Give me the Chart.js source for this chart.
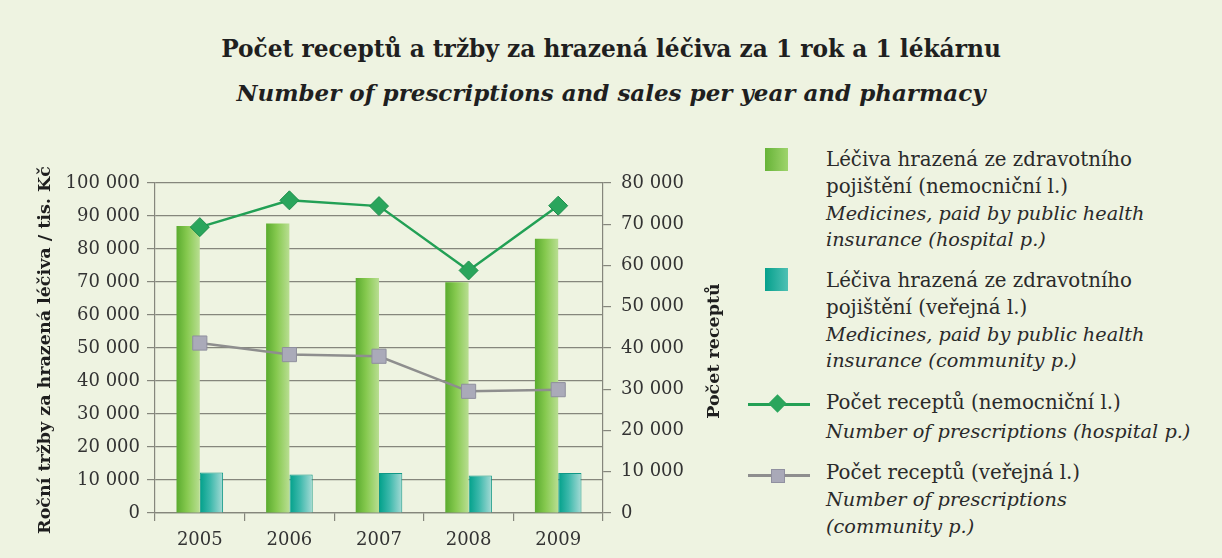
<!DOCTYPE html>
<html lang="cs">
<head>
<meta charset="utf-8">
<title>Počet receptů a tržby</title>
<script src="https://cdn.jsdelivr.net/npm/chart.js@4.4.1/dist/chart.umd.min.js"></script>
<style>
  html, body { margin: 0; padding: 0; }
  body {
    width: 1222px; height: 558px; position: relative; overflow: hidden;
    background: #eef3e1; font-family: "DejaVu Serif", serif; color: #262626;
  }
  .title { position: absolute; left: 0; width: 1222px; text-align: center; font-weight: bold; white-space: nowrap; color: #1f1f1f; }
  #t1 { top: 34px; font-size: 23.3px; line-height: 30px; }
  #t2 { top: 78px; font-size: 23px; line-height: 30px; font-style: italic; }
  #chartBox { position: absolute; left: 0; top: 150px; }
  .leg { position: absolute; left: 826px; font-size: 19.8px; line-height: 26.8px; white-space: nowrap; color: #2a2a2a; }
  .leg i { font-style: italic; font-size: 19.3px; }
  .sw { position: absolute; width: 23px; height: 23px; }
  .ln { position: absolute; height: 3px; }
  .mk { position: absolute; }
</style>
</head>
<body>
<div class="title" id="t1">Počet receptů a tržby za hrazená léčiva za 1 rok a 1 lékárnu</div>
<div class="title" id="t2">Number of prescriptions and sales per year and pharmacy</div>

<canvas id="chartBox" width="740" height="408"></canvas>

<!-- legend -->
<div class="sw" style="left:765px;top:148px;background:linear-gradient(90deg,#66b337,#9fd46c);"></div>
<div class="leg" style="top:147px">Léčiva hrazená ze zdravotního<br>pojištění (nemocniční l.)<br><i>Medicines, paid by public health<br>insurance (hospital p.)</i></div>

<div class="sw" style="left:765px;top:268px;background:linear-gradient(90deg,#05a08c,#4fc0b4);"></div>
<div class="leg" style="top:268px">Léčiva hrazená ze zdravotního<br>pojištění (veřejná l.)<br><i>Medicines, paid by public health<br>insurance (community p.)</i></div>

<div class="ln" style="left:748px;top:403px;width:62px;background:#23a055;"></div>
<div class="mk" style="left:771px;top:397px;width:13px;height:13px;background:#2aa55c;transform:rotate(45deg);"></div>
<div class="leg" style="top:389px;line-height:28.5px">Počet receptů (nemocniční l.)<br><i>Number of prescriptions (hospital p.)</i></div>

<div class="ln" style="left:748px;top:474px;width:62px;background:#8e8e8e;"></div>
<div class="mk" style="left:771px;top:469px;width:14px;height:14px;background:#a9a9b8;border:1px solid #9090a0;box-sizing:border-box;"></div>
<div class="leg" style="top:459px;line-height:27px">Počet receptů (veřejná l.)<br><i>Number of prescriptions<br>(community p.)</i></div>

<script>
// data
const years = ['2005', '2006', '2007', '2008', '2009'];
const salesHospital = [87000, 87700, 71200, 69900, 83100];   // tis. Kč
const salesCommunity = [12300, 11700, 12100, 11400, 12100];  // tis. Kč
const rxHospital = [69300, 75800, 74400, 58800, 74500];
const rxCommunity = [41200, 38400, 38000, 29500, 29900];
const leftMax = 100000;
const rightMax = 80000;
const tickStep = 10000;

const catPct = 0.52;
const gridColor = '#85867c';
const tickFont = { family: 'DejaVu Serif', size: 18 };

function fmt(v) {
  return String(v).replace(/\B(?=(\d{3})+(?!\d))/g, ' ');
}

// horizontal gradient on every bar, like a cylinder
function barFill(c1, c2, c3, side) {
  return function(ctx) {
    const chart = ctx.chart;
    const xs = chart.scales.x;
    if (!xs || ctx.type !== 'data') return c2;
    const center = xs.getPixelForValue(ctx.dataIndex);
    const bw = (xs.width / years.length) * catPct / 2;
    const left = side === 0 ? center - bw : center;
    if (!isFinite(left) || !isFinite(bw) || bw <= 0) return c2;
    const g = chart.ctx.createLinearGradient(left, 0, left + bw, 0);
    g.addColorStop(0, c1);
    g.addColorStop(0.45, c2);
    g.addColorStop(1, c3);
    return g;
  };
}

// axis titles (the right one reads bottom to top like the left one)
const axisTitles = {
  id: 'axisTitles',
  afterDraw(chart) {
    const ctx = chart.ctx;
    const a = chart.chartArea;
    const mid = (a.top + a.bottom) / 2;
    ctx.save();
    ctx.fillStyle = '#1e1e1e';
    ctx.font = 'bold 17.5px "DejaVu Serif"';
    ctx.textAlign = 'center';
    ctx.textBaseline = 'middle';
    ctx.translate(45, mid + 2);
    ctx.rotate(-Math.PI / 2);
    ctx.fillText('Roční tržby za hrazená léčiva / tis. Kč', 0, 0);
    ctx.restore();

    ctx.save();
    ctx.fillStyle = '#1e1e1e';
    ctx.font = 'bold 17.5px "DejaVu Serif"';
    ctx.textAlign = 'center';
    ctx.textBaseline = 'middle';
    ctx.translate(714, mid + 3);
    ctx.rotate(-Math.PI / 2);
    ctx.fillText('Počet receptů', 0, 0);
    ctx.restore();
  }
};

const ctx = document.getElementById('chartBox').getContext('2d');
new Chart(ctx, {
  type: 'bar',
  data: {
    labels: years,
    datasets: [
      {
        label: 'Léčiva hrazená ze zdravotního pojištění (nemocniční l.)',
        data: salesHospital,
        yAxisID: 'y',
        order: 1,
        backgroundColor: barFill('#5aab2e', '#86c94f', '#b9de92', 0),
        borderWidth: 0,
        categoryPercentage: catPct,
        barPercentage: 1.0
      },
      {
        label: 'Léčiva hrazená ze zdravotního pojištění (veřejná l.)',
        data: salesCommunity,
        yAxisID: 'y',
        order: 1,
        backgroundColor: barFill('#00a08a', '#3cb8ab', '#a7dbd6', 1),
        borderColor: '#119886',
        borderWidth: 1,
        borderSkipped: 'bottom',
        categoryPercentage: catPct,
        barPercentage: 1.0
      },
      {
        type: 'line',
        label: 'Počet receptů (nemocniční l.)',
        data: rxHospital,
        yAxisID: 'y1',
        order: 0,
        borderColor: '#22a055',
        borderWidth: 2.5,
        pointStyle: 'rectRot',
        pointRadius: 9.5,
        pointBackgroundColor: '#2aa55c',
        pointBorderColor: '#1d8e4c',
        pointBorderWidth: 1,
        tension: 0
      },
      {
        type: 'line',
        label: 'Počet receptů (veřejná l.)',
        data: rxCommunity,
        yAxisID: 'y1',
        order: 0,
        borderColor: '#8e8e8e',
        borderWidth: 2.5,
        pointStyle: 'rect',
        pointRadius: 10,
        pointBackgroundColor: '#aaaab9',
        pointBorderColor: '#8f8f9e',
        pointBorderWidth: 1,
        tension: 0
      }
    ]
  },
  options: {
    responsive: false,
    animation: false,
    layout: { padding: { top: 33, left: 0, right: 0, bottom: 0 } },
    plugins: {
      legend: { display: false },
      tooltip: { enabled: false },
      title: { display: false }
    },
    scales: {
      x: {
        offset: true,
        grid: { offset: true, drawOnChartArea: false, drawTicks: true, tickLength: 8, color: gridColor, lineWidth: 1.2 },
        border: { display: true, color: gridColor, width: 1.2 },
        ticks: { color: '#333333', font: tickFont, padding: 9, maxRotation: 0 },
        afterFit(s) { s.height = 45; }
      },
      y: {
        position: 'left',
        min: 0,
        max: leftMax,
        grid: { color: gridColor, lineWidth: 1.2, tickLength: 8 },
        border: { display: true, color: gridColor, width: 1.2 },
        ticks: { stepSize: tickStep, color: '#333333', font: tickFont, padding: 7, callback: v => fmt(v) },
        afterFit(s) { s.width = 155; }
      },
      y1: {
        position: 'right',
        min: 0,
        max: rightMax,
        grid: { drawOnChartArea: false, color: gridColor, lineWidth: 1.2, tickLength: 8 },
        border: { display: true, color: gridColor, width: 1.2 },
        ticks: { stepSize: tickStep, color: '#333333', font: tickFont, padding: 10, callback: v => fmt(v) },
        afterFit(s) { s.width = 137; }
      }
    }
  },
  plugins: [axisTitles]
});
</script>
</body>
</html>
